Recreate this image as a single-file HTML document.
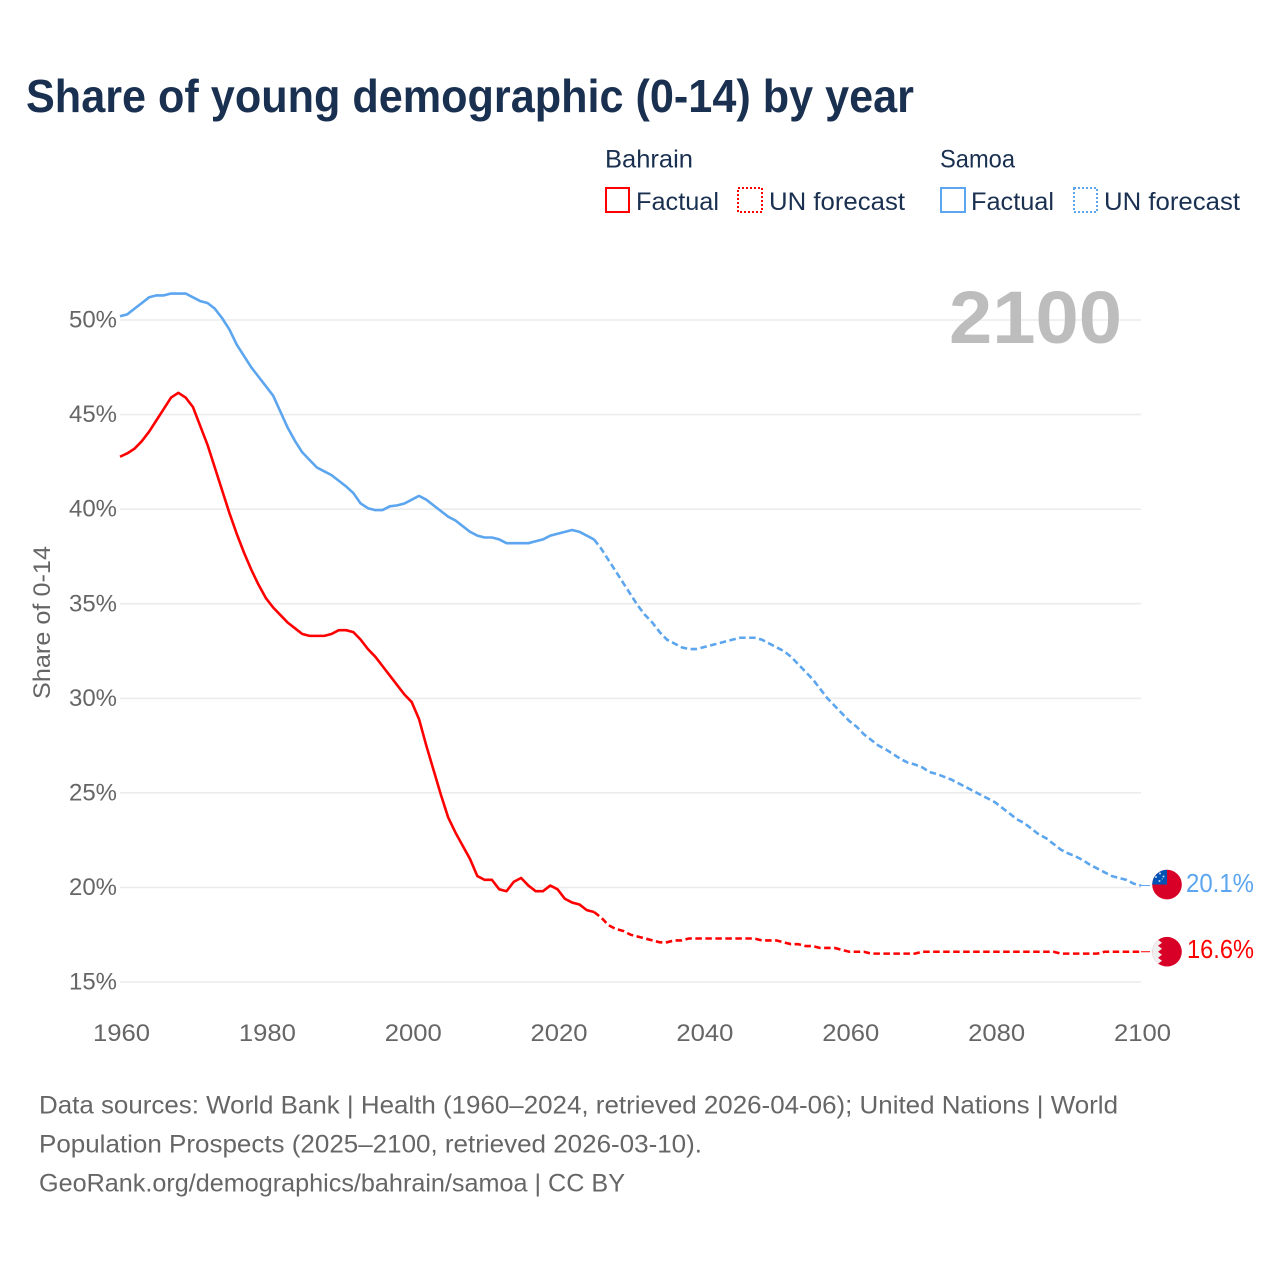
<!DOCTYPE html>
<html lang="en">
<head>
<meta charset="utf-8">
<title>Share of young demographic (0-14) by year</title>
<style>
html,body{margin:0;padding:0;background:#fff;width:1280px;height:1280px;overflow:hidden}
svg{display:block}
text{font-family:"Liberation Sans",sans-serif}
</style>
</head>
<body>
<svg id="chart" xmlns="http://www.w3.org/2000/svg" width="1280" height="1280" viewBox="0 0 1280 1280">
  <rect width="1280" height="1280" fill="#fff"/>
  <text x="26" y="112" font-size="46" font-weight="700" fill="#1a3050" textLength="888" lengthAdjust="spacingAndGlyphs">Share of young demographic (0-14) by year</text>

  <g font-size="25" fill="#1a3050">
    <text x="605" y="167.5" textLength="88" lengthAdjust="spacingAndGlyphs">Bahrain</text>
    <text x="940" y="167.5" textLength="75" lengthAdjust="spacingAndGlyphs">Samoa</text>
    <rect x="606" y="188" width="23" height="24" fill="none" stroke="#ff0000" stroke-width="2"/>
    <text x="636" y="210" textLength="83" lengthAdjust="spacingAndGlyphs">Factual</text>
    <rect x="738" y="188" width="24" height="24" fill="none" stroke="#ff0000" stroke-width="2" stroke-dasharray="2 2"/>
    <text x="769" y="210" textLength="136" lengthAdjust="spacingAndGlyphs">UN forecast</text>
    <rect x="941" y="188" width="24" height="24" fill="none" stroke="#5ca5ef" stroke-width="2"/>
    <text x="971" y="210" textLength="83" lengthAdjust="spacingAndGlyphs">Factual</text>
    <rect x="1074" y="188" width="23" height="24" fill="none" stroke="#5ca5ef" stroke-width="2" stroke-dasharray="2 2"/>
    <text x="1104" y="210" textLength="136" lengthAdjust="spacingAndGlyphs">UN forecast</text>
  </g>

  <g id="grid"></g>
  <text x="949" y="343" font-size="74" font-weight="700" fill="#bdbdbd" textLength="173" lengthAdjust="spacingAndGlyphs">2100</text>
  <g id="yticks" font-size="24" fill="#666"></g>
  <g id="xticks" font-size="24" fill="#666"></g>
  <text transform="translate(50,699) rotate(-90)" font-size="24" fill="#666" textLength="153" lengthAdjust="spacingAndGlyphs">Share of 0-14</text>
  <g id="series"></g>

  <defs>
    <clipPath id="flag-clip"><circle cx="0" cy="0" r="14.8"/></clipPath>
  </defs>
  <g id="flag-samoa">
    <g clip-path="url(#flag-clip)">
      <rect x="-15" y="-15" width="30" height="30" fill="#d80027"/>
      <rect x="-15" y="-15" width="15" height="15" fill="#0052b4"/>
      <g fill="#c9d9f0">
        <circle cx="-7" cy="-11" r="1"/>
        <circle cx="-11" cy="-7.5" r="1"/>
        <circle cx="-3.5" cy="-8" r="1"/>
        <circle cx="-7.5" cy="-3.5" r="1"/>
        <circle cx="-4.8" cy="-5.6" r="0.6"/>
      </g>
    </g>
  </g>
  <g id="flag-bahrain">
    <g clip-path="url(#flag-clip)">
      <rect x="-15" y="-15" width="30" height="30" fill="#d80027"/>
      <polygon fill="#efefef" points="-15,-15 -4,-15 -9,-12 -5,-9 -9,-6 -5,-3 -9,0 -5,3 -9,6 -5,9 -9,12 -4,15 -15,15"/>
    </g>
  </g>
  <g id="endlabels" font-size="26"></g>

  <g font-size="25" fill="#666">
    <text x="39" y="1113.5" textLength="1079" lengthAdjust="spacingAndGlyphs">Data sources: World Bank | Health (1960–2024, retrieved 2026-04-06); United Nations | World</text>
    <text x="39" y="1152.5" textLength="663" lengthAdjust="spacingAndGlyphs">Population Prospects (2025–2100, retrieved 2026-03-10).</text>
    <text x="39" y="1191.5" textLength="586" lengthAdjust="spacingAndGlyphs">GeoRank.org/demographics/bahrain/samoa | CC BY</text>
  </g>
</svg>
<script>
const firstYear = 1960;
const lastFactualYear = 2025;
const xTickYears = [1960, 1980, 2000, 2020, 2040, 2060, 2080, 2100];
const yTickValues = [15, 20, 25, 30, 35, 40, 45, 50];
const bahrainValues = [
  42.77,42.95,43.2,43.6,44.1,44.7,45.3,45.9,46.15,45.9,
  45.4,44.4,43.4,42.2,41.0,39.8,38.7,37.7,36.8,36.0,
  35.3,34.8,34.4,34.0,33.7,33.4,33.3,33.3,33.3,33.4,
  33.6,33.6,33.5,33.1,32.6,32.2,31.7,31.2,30.7,30.2,
  29.8,28.9,27.5,26.2,24.9,23.7,22.9,22.2,21.5,20.6,
  20.4,20.4,19.9,19.8,20.3,20.5,20.1,19.8,19.8,20.1,
  19.9,19.4,19.2,19.1,18.8,18.7,18.4,18.0,17.8,17.7,
  17.5,17.4,17.3,17.2,17.1,17.1,17.2,17.2,17.3,17.3,
  17.3,17.3,17.3,17.3,17.3,17.3,17.3,17.3,17.2,17.2,
  17.2,17.1,17.0,17.0,16.9,16.9,16.8,16.8,16.8,16.7,
  16.6,16.6,16.6,16.5,16.5,16.5,16.5,16.5,16.5,16.5,
  16.6,16.6,16.6,16.6,16.6,16.6,16.6,16.6,16.6,16.6,
  16.6,16.6,16.6,16.6,16.6,16.6,16.6,16.6,16.6,16.5,
  16.5,16.5,16.5,16.5,16.5,16.6,16.6,16.6,16.6,16.6,16.6
];
const samoaValues = [
  50.2,50.3,50.6,50.9,51.2,51.3,51.3,51.4,51.4,51.4,
  51.2,51.0,50.9,50.6,50.1,49.5,48.7,48.1,47.5,47.0,
  46.5,46.0,45.15,44.3,43.6,43.0,42.6,42.2,42.0,41.8,
  41.5,41.2,40.85,40.3,40.05,39.95,39.95,40.15,40.2,40.3,
  40.5,40.7,40.5,40.2,39.9,39.6,39.4,39.1,38.8,38.6,
  38.5,38.5,38.4,38.2,38.2,38.2,38.2,38.3,38.4,38.6,
  38.7,38.8,38.9,38.8,38.6,38.4,37.9,37.3,36.7,36.1,
  35.5,34.9,34.4,34.0,33.5,33.1,32.9,32.7,32.6,32.6,
  32.7,32.8,32.9,33.0,33.1,33.2,33.2,33.2,33.1,32.9,
  32.7,32.5,32.2,31.8,31.4,31.0,30.5,30.0,29.6,29.2,
  28.8,28.5,28.1,27.8,27.5,27.3,27.05,26.8,26.6,26.5,
  26.35,26.1,26.0,25.85,25.7,25.5,25.3,25.1,24.9,24.7,
  24.5,24.2,23.9,23.6,23.4,23.1,22.8,22.6,22.3,22.0,
  21.8,21.65,21.45,21.2,21.0,20.8,20.6,20.5,20.4,20.2,20.1
];

const NS = 'http://www.w3.org/2000/svg';
const RED = '#ff0000';
const BLUE = '#5ca5ef';
function xScale(year) { return 120 + (year - 1960) * (1141 - 120) / 140; }
function yScale(v) { return 982 - (v - 15) * (982 - 320) / 35; }

const gridG = document.getElementById('grid');
const yTickG = document.getElementById('yticks');
yTickValues.forEach(function (v) {
  const ln = document.createElementNS(NS, 'line');
  
  
  ln.setAttribute('x1', 120);
  ln.setAttribute('x2', 1141);
  ln.setAttribute('y1', yScale(v));
  ln.setAttribute('y2', yScale(v));
  ln.setAttribute('stroke', '#ececec');
  ln.setAttribute('stroke-width', 1.6);
  gridG.appendChild(ln);
  const t = document.createElementNS(NS, 'text');
  
  
  t.setAttribute('x', 69);
  t.setAttribute('y', yScale(v) + 7.6);
  t.setAttribute('textLength', 48);
  t.setAttribute('lengthAdjust', 'spacingAndGlyphs');
  t.textContent = v + '%';
  yTickG.appendChild(t);
});

const xTickG = document.getElementById('xticks');
xTickYears.forEach(function (yr) {
  const t = document.createElementNS(NS, 'text');
  
  
  t.setAttribute('x', xScale(yr) + 1.5 - 28.5);
  t.setAttribute('y', 1041);
  t.setAttribute('textLength', 57);
  t.setAttribute('lengthAdjust', 'spacingAndGlyphs');
  t.textContent = String(yr);
  xTickG.appendChild(t);
});

function pathFrom(values, startYear, endYear) {
  const pts = [];
  for (let yr = startYear; yr <= endYear; yr++) {
    const v = values[yr - firstYear];
    if (v === undefined) break;
    pts.push(xScale(yr).toFixed(2) + ',' + yScale(v).toFixed(2));
  }
  return 'M' + pts.join('L');
}

const seriesG = document.getElementById('series');
function drawSeries(key, values, color) {
  const lastYear = firstYear + values.length - 1;
  const factual = document.createElementNS(NS, 'path');
  
  
  factual.setAttribute('d', pathFrom(values, firstYear, lastFactualYear));
  factual.setAttribute('fill', 'none');
  factual.setAttribute('stroke', color);
  factual.setAttribute('stroke-width', 2.6);
  factual.setAttribute('stroke-linejoin', 'round');
  seriesG.appendChild(factual);
  const forecast = document.createElementNS(NS, 'path');
  
  
  forecast.setAttribute('d', pathFrom(values, lastFactualYear, lastYear));
  forecast.setAttribute('fill', 'none');
  forecast.setAttribute('stroke', color);
  forecast.setAttribute('stroke-width', 2.6);
  forecast.setAttribute('stroke-dasharray', '6.5 3.5');
  seriesG.appendChild(forecast);
  const lastV = values[values.length - 1];
  const conn = document.createElementNS(NS, 'line');
  
  
  conn.setAttribute('x1', xScale(lastYear));
  conn.setAttribute('x2', 1150);
  conn.setAttribute('y1', yScale(lastV));
  conn.setAttribute('y2', yScale(lastV));
  conn.setAttribute('stroke', color);
  conn.setAttribute('stroke-width', 1);
  seriesG.appendChild(conn);
}
drawSeries('bahrain', bahrainValues, RED);
drawSeries('samoa', samoaValues, BLUE);

const samoaLast = samoaValues[samoaValues.length - 1];
const bahrainLast = bahrainValues[bahrainValues.length - 1];
document.getElementById('flag-samoa').setAttribute('transform', 'translate(1167,' + (yScale(samoaLast) - 1) + ')');
document.getElementById('flag-bahrain').setAttribute('transform', 'translate(1167,' + yScale(bahrainLast) + ')');

const endG = document.getElementById('endlabels');
function endLabel(key, value, color, x, width, dy) {
  const t = document.createElementNS(NS, 'text');
  
  
  t.setAttribute('x', x);
  t.setAttribute('y', yScale(value) + dy);
  t.setAttribute('fill', color);
  t.setAttribute('textLength', width);
  t.setAttribute('lengthAdjust', 'spacingAndGlyphs');
  t.textContent = value.toFixed(1) + '%';
  endG.appendChild(t);
}
endLabel('samoa', samoaLast, BLUE, 1186, 68, 6.5);
endLabel('bahrain', bahrainLast, RED, 1187, 67, 6.5);
</script>
</body>
</html>
